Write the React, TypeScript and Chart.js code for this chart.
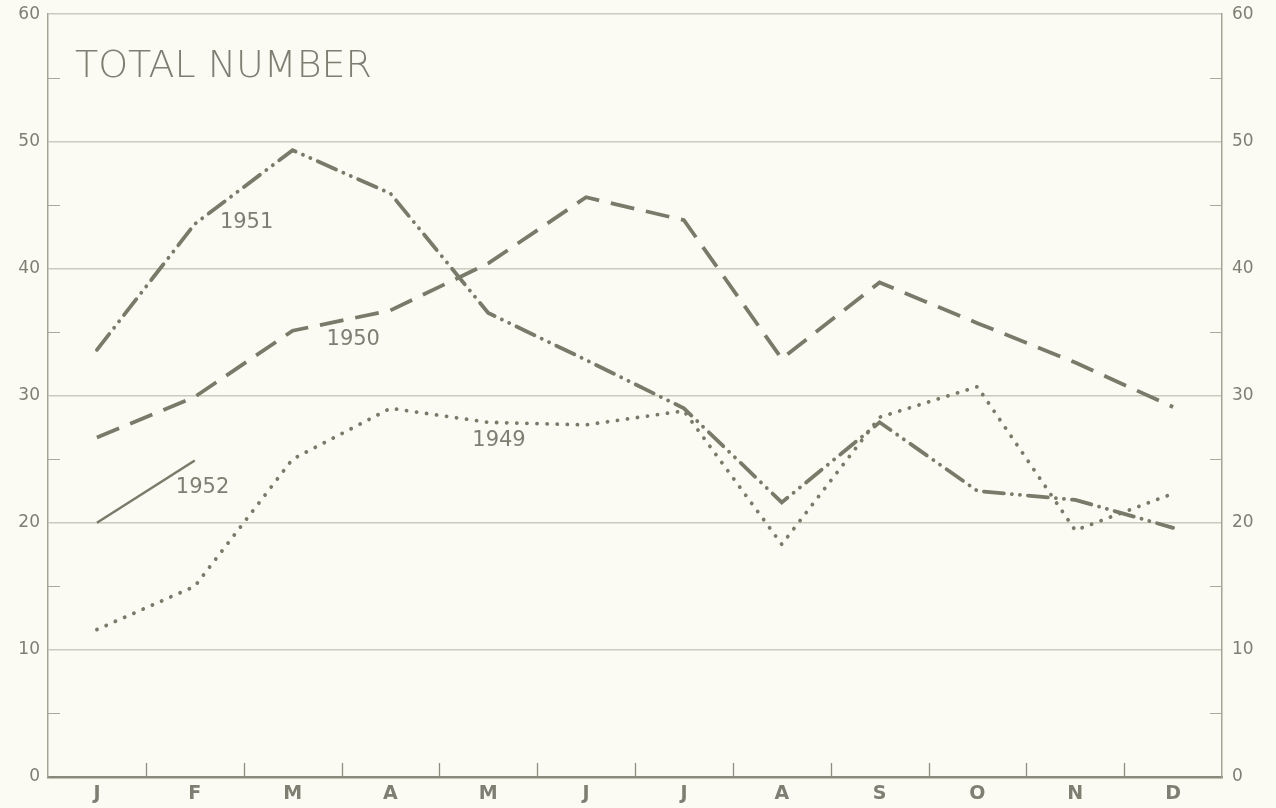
import React, { useEffect, useRef } from 'react';
import { Chart, registerables } from 'chart.js';

Chart.register(...registerables);

const months = ['J', 'F', 'M', 'A', 'M', 'J', 'J', 'A', 'S', 'O', 'N', 'D'];
const s1949 = [11.6, 15.0, 25.0, 29.0, 27.9, 27.7, 28.8, 18.3, 28.3, 30.7, 19.4, 22.3];
const s1950 = [26.7, 29.9, 35.1, 36.7, 40.4, 45.6, 43.8, 32.9, 38.9, 35.7, 32.6, 29.1];
const s1951 = [33.6, 43.5, 49.3, 45.9, 36.5, 32.8, 29.0, 21.6, 27.9, 22.5, 21.8, 19.6];
const s1952 = [20.0, 24.9, null, null, null, null, null, null, null, null, null, null];
const seriesNames = ['1949', '1950', '1951', '1952'];
const yMin = 0;
const yMax = 60;
const yStep = 10;
const titleText = 'TOTAL NUMBER';

const INK = '#7a7a6a';
const GRID = '#cacabf';
const TEXT = '#7e7e72';
const BG = '#fbfbf3';
const FONT = '"DejaVu Sans", sans-serif';

const decorPlugin = {
  id: 'decor',
  beforeDatasetsDraw(chart: any) {
    const { ctx, chartArea, scales } = chart;
    const y = scales.y;
    const x = scales.x;
    ctx.save();
    ctx.strokeStyle = '#a9a99c';
    ctx.lineWidth = 1.2;
    for (let v = yMin + yStep / 2; v < yMax; v += yStep) {
      const py = Math.round(y.getPixelForValue(v)) + 0.5;
      ctx.beginPath();
      ctx.moveTo(chartArea.left, py);
      ctx.lineTo(chartArea.left + 12, py);
      ctx.moveTo(chartArea.right, py);
      ctx.lineTo(chartArea.right - 12, py);
      ctx.stroke();
    }
    ctx.strokeStyle = '#8e8e80';
    ctx.lineWidth = 1.3;
    for (let i = 0; i < months.length - 1; i++) {
      const px = Math.round((x.getPixelForValue(i) + x.getPixelForValue(i + 1)) / 2) + 0.5;
      ctx.beginPath();
      ctx.moveTo(px, chartArea.bottom);
      ctx.lineTo(px, chartArea.bottom - 14);
      ctx.stroke();
    }
    ctx.restore();
  },
  afterDatasetsDraw(chart: any) {
    const { ctx, chartArea, scales } = chart;
    const x = scales.x;
    const y = scales.y;
    ctx.save();
    ctx.fillStyle = TEXT;
    ctx.font = '200 38px ' + FONT;
    ctx.textBaseline = 'middle';
    ctx.textAlign = 'left';
    ctx.fillText(titleText, chartArea.left + 27, y.getPixelForValue(55.8));
    ctx.font = '21px ' + FONT;
    ctx.textAlign = 'center';
    const place: [string, number, number][] = [
      [seriesNames[2], 1.53, 43.6],
      [seriesNames[1], 2.62, 34.4],
      [seriesNames[0], 4.11, 26.5],
      [seriesNames[3], 1.08, 22.8],
    ];
    for (const [t, xi, yv] of place) {
      const px = x.getPixelForValue(0) + (x.getPixelForValue(1) - x.getPixelForValue(0)) * xi;
      ctx.fillText(t, px, y.getPixelForValue(yv));
    }
    ctx.restore();
  },
};

export default function App() {
  const ref = useRef<HTMLCanvasElement>(null);
  useEffect(() => {
    document.body.style.margin = '0';
    const chart = new Chart(ref.current!, {
      type: 'line',
      data: {
        labels: months,
        datasets: [
          {
            label: seriesNames[0],
            data: s1949,
            borderColor: INK,
            borderWidth: 3.8,
            borderDash: [0.1, 10],
            borderCapStyle: 'round',
            pointRadius: 0,
            tension: 0,
          },
          {
            label: seriesNames[1],
            data: s1950,
            borderColor: INK,
            borderWidth: 3.8,
            borderDash: [24, 12],
            pointRadius: 0,
            tension: 0,
          },
          {
            label: seriesNames[2],
            data: s1951,
            borderColor: INK,
            borderWidth: 3.8,
            borderDash: [20, 8, 0.1, 8, 0.1, 8],
            borderCapStyle: 'round',
            pointRadius: 0,
            tension: 0,
          },
          {
            label: seriesNames[3],
            data: s1952,
            borderColor: INK,
            borderWidth: 2.5,
            pointRadius: 0,
            tension: 0,
            spanGaps: false,
          },
        ],
      },
      options: {
        animation: false,
        responsive: true,
        maintainAspectRatio: false,
        layout: { padding: { top: 0, left: 0, right: 0, bottom: 0 } },
        plugins: { legend: { display: false }, tooltip: { enabled: false }, title: { display: false } },
        scales: {
          x: {
            type: 'category',
            offset: true,
            grid: { display: false, drawTicks: false },
            border: { display: true, color: '#8a8a7c', width: 2.5 },
            ticks: { color: TEXT, font: { family: FONT, size: 19, weight: 'bold' }, padding: 6 },
            afterFit: (s: any) => { s.height = 31; },
          },
          y: {
            position: 'left',
            min: yMin,
            max: yMax,
            ticks: { stepSize: yStep, color: TEXT, font: { family: FONT, size: 17 }, padding: 8 },
            grid: { color: GRID, lineWidth: 1.6, drawTicks: false },
            border: { display: true, color: '#a3a396', width: 1.5 },
            afterFit: (s: any) => { s.width = 48; },
          },
          y2: {
            position: 'right',
            min: yMin,
            max: yMax,
            ticks: { stepSize: yStep, color: TEXT, font: { family: FONT, size: 17 }, padding: 10 },
            grid: { display: false, drawTicks: false },
            border: { display: true, color: '#a3a396', width: 1.5 },
            afterFit: (s: any) => { s.width = 54; },
          },
        },
      },
      plugins: [decorPlugin],
    });
    return () => chart.destroy();
  }, []);
  return (
    <div style={{ position: 'absolute', left: 0, top: 0, width: 1276, height: 808, background: BG, overflow: 'hidden' }}>
      <div style={{ position: 'absolute', left: 0, top: -6, width: 1276, height: 814 }}>
        <canvas ref={ref} />
      </div>
    </div>
  );
}
